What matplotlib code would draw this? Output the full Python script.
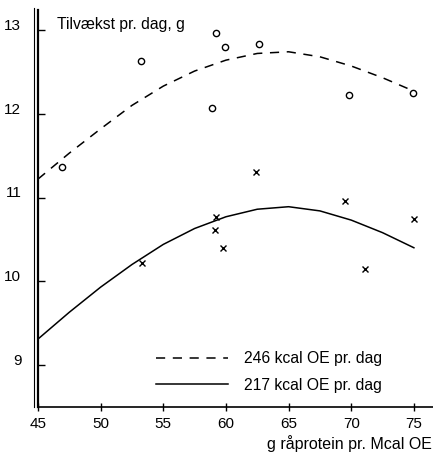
import numpy as np
import matplotlib
matplotlib.use("Agg")
import matplotlib.pyplot as plt
from matplotlib.transforms import ScaledTranslation

plt.rcParams['font.family'] = ['Liberation Sans', 'DejaVu Sans']

# observations, 246 kcal OE pr. dag (circles)
x_246 = [46.9, 53.2, 59.2, 58.9, 59.9, 62.6, 69.8, 74.9]
y_246 = [11.36, 12.63, 12.96, 12.07, 12.80, 12.83, 12.22, 12.25]

# observations, 217 kcal OE pr. dag (crosses)
x_217 = [53.3, 59.2, 59.1, 59.8, 62.4, 69.5, 71.1, 75.0]
y_217 = [10.22, 10.77, 10.61, 10.40, 11.30, 10.96, 10.15, 10.74]

# fitted curves
curve_x = [45, 47.5, 50, 52.5, 55, 57.5, 60, 62.5, 65, 67.5, 70, 72.5, 75]
curve_246 = [11.22, 11.53, 11.82, 12.10, 12.33, 12.51, 12.64, 12.72, 12.74, 12.68, 12.57, 12.43, 12.27]
curve_217 = [9.31, 9.63, 9.93, 10.20, 10.44, 10.63, 10.77, 10.86, 10.89, 10.84, 10.73, 10.58, 10.40]

xticks = [45, 50, 55, 60, 65, 70, 75]
yticks = [9, 10, 11, 12, 13]

fig = plt.figure(figsize=(4.33, 4.54), dpi=100)
ax = fig.add_axes([38/433, 1 - 407/454, 1 - 38/433, (407 - 10)/454])

ax.plot(curve_x, curve_246, color='black', lw=1.1, dashes=(6, 5),
        label='246 kcal OE pr. dag')
ax.plot(curve_x, curve_217, color='black', lw=1.1, label='217 kcal OE pr. dag')
ax.plot(x_246, y_246, 'o', ms=4.5, mfc='white', mec='black', mew=1.0)
ax.plot(x_217, y_217, 'x', ms=4.5, color='black', mew=1.0)

ax.set_xlim(45, 45 + 395/12.53)
ax.set_ylim(9 - 42/83.75, 13 + 20/83.75)
ax.set_xticks(xticks)
ax.set_yticks(yticks)
for s in ['top', 'right']:
  ax.spines[s].set_visible(False)
ax.spines['left'].set_linewidth(1.6)
ax.spines['bottom'].set_linewidth(1.2)
ax.tick_params(axis='x', direction='inout', length=6, width=1.0, labelsize=11, pad=4)
ax.tick_params(axis='y', direction='in', length=5, width=1.0, labelsize=11, pad=12)
# y labels sit a little above their ticks in the original
for lab in ax.get_yticklabels():
  lab.set_transform(lab.get_transform() + ScaledTranslation(0, 4/72, fig.dpi_scale_trans))

# second (double) line of the y axis
fig.add_artist(plt.Line2D([34/433, 34/433], [1 - 407/454, 1 - 8/454], color='black', lw=0.8))

fig.text(57/433, 1 - 25/454, 'Tilvækst pr. dag, g', fontsize=11.3, va='center', ha='left')
fig.text(432/433, 1 - 444/454, 'g råprotein pr. Mcal OE', fontsize=11.5, va='center', ha='right')

ax.legend(loc='upper left', bbox_to_anchor=(156/433, 1 - 351/454), bbox_transform=fig.transFigure,
          frameon=False, fontsize=11.3, handlelength=4.6, handletextpad=1.0, labelspacing=0.75,
          borderaxespad=0, borderpad=0)

fig.savefig('out.png', dpi=100)
